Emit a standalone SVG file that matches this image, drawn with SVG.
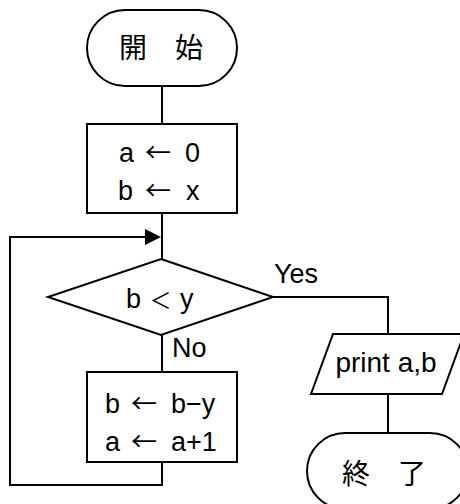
<svg xmlns="http://www.w3.org/2000/svg" width="460" height="504" viewBox="0 0 460 504">
<style>
.s{fill:#fff;stroke:#000;stroke-width:2}
.c{fill:none;stroke:#000;stroke-width:2}
text{font-family:"Liberation Sans","Noto Sans CJK JP",sans-serif;font-size:27px;fill:#000}
.m{text-anchor:middle}
.j{font-family:"Noto Sans CJK JP",sans-serif;font-size:28px}
.ar{font-family:"Noto Sans CJK JP",sans-serif;font-size:26px}
.lt{font-family:"Noto Sans CJK JP",sans-serif;font-size:22px}
</style>
<rect width="460" height="504" fill="#fff"/>
<g id="connectors">
<path class="c" d="M162,86V124"/>
<path class="c" d="M162,213V259"/>
<path class="c" d="M162,462V485H10V237H147"/>
<polygon points="145,229 161,237 145,245" fill="#000"/>
<path class="c" d="M273,297H388V334"/>
<path class="c" d="M162,335V372"/>
<path class="c" d="M388,394V433"/>
<text x="274" y="283">Yes</text>
<text x="172" y="357">No</text>
</g>
<g id="start">
<rect class="s" x="87" y="10" width="150" height="76" rx="38"/>
<text class="m j" x="161" y="58">開　始</text>
</g>
<g id="init">
<rect class="s" x="87" y="124" width="150" height="89"/>
<text x="119" y="162">a <tspan class="ar" dx="3.5">←</tspan> <tspan dx="6.5">0</tspan></text>
<text x="118" y="200">b <tspan class="ar" dx="4.5">←</tspan> <tspan dx="7.5">x</tspan></text>
</g>
<g id="cond">
<polygon class="s" points="161,259 273,297 161,335 48,297"/>
<text x="126" y="308">b <tspan class="lt" dx="1">＜</tspan> <tspan dx="1">y</tspan></text>
</g>
<g id="update">
<rect class="s" x="87" y="372" width="150" height="90"/>
<text x="105" y="413">b <tspan class="ar" dx="3.5">←</tspan> <tspan dx="6.5">b−y</tspan></text>
<text x="105" y="451">a <tspan class="ar" dx="3.5">←</tspan> <tspan dx="6.5">a+1</tspan></text>
</g>
<g id="print">
<polygon class="s" points="333,334 464,334 442,394 311,394"/>
<text class="m" x="386" y="372" style="font-size:28px">print a,b</text>
</g>
<g id="end">
<rect class="s" x="307" y="433" width="161" height="76" rx="38"/>
<text class="m j" x="384" y="484">終　了</text>
</g>
</svg>
